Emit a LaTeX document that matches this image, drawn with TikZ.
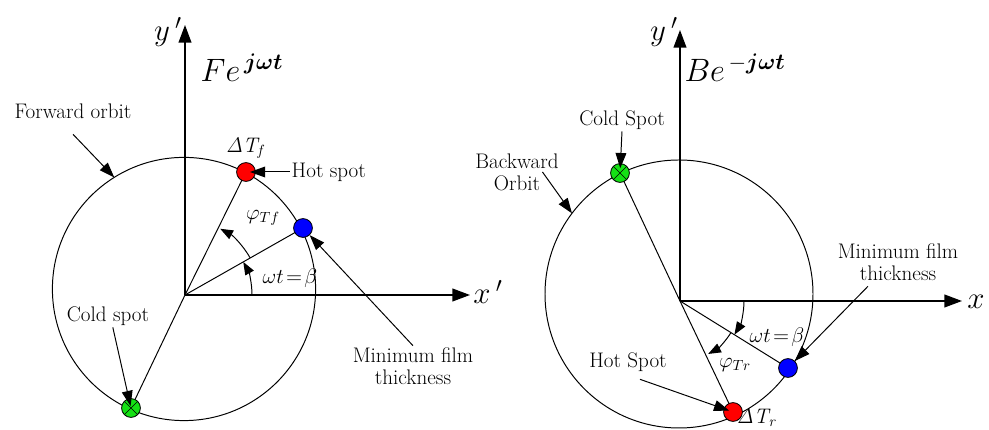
\RequirePackage{fix-cm}
\documentclass[tikz,border=0pt]{standalone}
\usepackage{bm}
\usetikzlibrary{arrows.meta,positioning}
\definecolor{spotgreen}{RGB}{20,225,20}

\tikzset{
  axis/.style={line width=1pt, -{Triangle[length=0.44cm,width=0.32cm]}},
  pointer/.style={line width=0.7pt, -{Triangle[length=0.38cm,width=0.27cm]}},
  turn/.style={line width=0.7pt, -{Triangle[length=0.32cm,width=0.24cm]}},
  spot/.style={circle, draw, line width=0.6pt, inner sep=0pt, minimum size=0.47cm},
  coldspot/.style={spot, fill=spotgreen, path picture={
      \draw[line width=0.35pt] (path picture bounding box.north east) -- (path picture bounding box.south west)
        (path picture bounding box.north west) -- (path picture bounding box.south east);}},
  txt/.style={font=\fontsize{15}{15.5}\selectfont, align=center, inner sep=1pt},
  sym/.style={font=\fontsize{15}{15}\selectfont, inner sep=1pt},
  axlabel/.style={font=\fontsize{22}{22}\selectfont, inner sep=0pt},
  phasor/.style={font=\fontsize{23}{23}\selectfont, inner sep=0pt},
}

\begin{document}
\begin{tikzpicture}[line width=0.7pt]
  \useasboundingbox (0,0) rectangle (24.725,10.75);

  % forward orbit
  \coordinate (OL) at (4.625,3.375);
  \coordinate (CL) at (4.6,3.525);
  \coordinate (yLtip) at (4.625,10.125);
  \coordinate (xLtip) at (11.75,3.375);
  \draw (CL) circle (3.29);
  \draw[axis] (OL) -- (yLtip);
  \draw[axis] (OL) -- (xLtip);
  \node[axlabel] (yLlab) at (4.2,9.95) {$y\,'$};
  \node[axlabel] (xLlab) at (12.2,3.45) {$x\,'$};
  \node[phasor] (feL) at (6.05,9.05) {$Fe^{\,\bm{j\omega t}}$};

  \coordinate (hotLc) at (6.15,6.45);
  \coordinate (minLc) at (7.575,5.05);
  \coordinate (coldLc) at (3.275,0.55);
  \draw (coldLc) -- (OL) -- (hotLc);
  \draw (OL) -- (minLc);
  \draw[turn] ([shift={(0:1.675)}]OL) arc[start angle=0, end angle=29.6, radius=1.675];
  \draw[turn] ([shift={(29.6:1.875)}]OL) arc[start angle=29.6, end angle=62, radius=1.875];
  \node[sym] (wtL) at (7.25,3.8) {$\omega t\!=\!\beta$};
  \node[sym] (phiL) at (6.575,5.3) {$\varphi_{Tf}$};

  \node[spot, fill=red] (hotL) at (hotLc) {};
  \node[spot, fill=blue] (minL) at (minLc) {};
  \node[coldspot] (coldL) at (coldLc) {};
  \node[sym, above=0.05cm of hotL] (dTf) {$\mathit{\Delta T_f}$};

  \node[txt] (fwdtxt) at (1.825,7.975) {Forward orbit};
  \coordinate (fwdtip) at ([shift={(122:3.29)}]CL);
  \draw[pointer] ([yshift=-0.35cm]fwdtxt.south) -- (fwdtip);
  \node[txt, right=0.85cm of hotL] (hotLtxt) {Hot spot};
  \draw[pointer, shorten >=0.1cm] (hotLtxt.west) -- (hotL.center);
  \node[txt] (coldLtxt) at (2.7,2.85) {Cold spot};
  \draw[pointer, shorten >=0.05cm] ([xshift=0.12cm]coldLtxt.south) -- (coldL.center);
  \node[txt] (minLtxt) at (10.325,1.6) {Minimum film\\thickness};
  \draw[pointer] (minLtxt.north) -- (minL);

  % backward orbit
  \coordinate (OR) at (17,3.225);
  \coordinate (CR) at (16.975,3.4);
  \coordinate (yRtip) at (17,10.0);
  \coordinate (xRtip) at (24.05,3.225);
  \draw (CR) circle (3.35);
  \draw[axis] (OR) -- (yRtip);
  \draw[axis] (OR) -- (xRtip);
  \node[axlabel] (yRlab) at (16.6,9.95) {$y\,'$};
  \node[axlabel] (xRlab) at (24.4,3.2) {$x$};
  \node[phasor] (beR) at (18.375,9.05) {$Be^{\,-\bm{j\omega t}}$};

  \coordinate (hotRc) at (18.325,0.45);
  \coordinate (minRc) at (19.7,1.55);
  \coordinate (coldRc) at (15.5,6.425);
  \draw (coldRc) -- (OR) -- (hotRc);
  \draw (OR) -- (minRc);
  \draw[turn] ([shift={(0:1.6)}]OR) arc[start angle=0, end angle=-31.8, radius=1.6];
  \draw[turn] ([shift={(-31.8:1.5)}]OR) arc[start angle=-31.8, end angle=-62, radius=1.5];
  \node[sym] (wtR) at (19.425,2.325) {$\omega t\!=\!\beta$};
  \node[sym] (phiR) at (18.375,1.625) {$\varphi_{Tr}$};

  \node[spot, fill=red] (hotR) at (hotRc) {};
  \node[spot, fill=blue] (minR) at (minRc) {};
  \node[coldspot] (coldR) at (coldRc) {};
  \node[sym] (dTr) at (18.925,0.3) {$\mathit{\Delta T_r}$};

  \node[txt] (coldRtxt) at (15.55,7.75) {Cold Spot};
  \draw[pointer, shorten >=0.12cm] (coldRtxt.south) -- (coldR.center);
  \node[txt] (bwdtxt) at (12.925,6.45) {Backward\\Orbit};
  \coordinate (bwdtip) at ([shift={(143:3.35)}]CR);
  \draw[pointer] ([xshift=-0.45cm]bwdtxt.east) -- (bwdtip);
  \node[txt] (hotRtxt) at (15.7,1.7) {Hot Spot};
  \draw[pointer, shorten >=0.1cm] ([xshift=0.3cm,yshift=-0.15cm]hotRtxt.south) -- (hotR.center);
  \node[txt] (minRtxt) at (22.45,4.2) {Minimum film\\thickness};
  \draw[pointer] ([xshift=-0.75cm,yshift=-0.1cm]minRtxt.south) -- (minR);
\end{tikzpicture}
\end{document}
